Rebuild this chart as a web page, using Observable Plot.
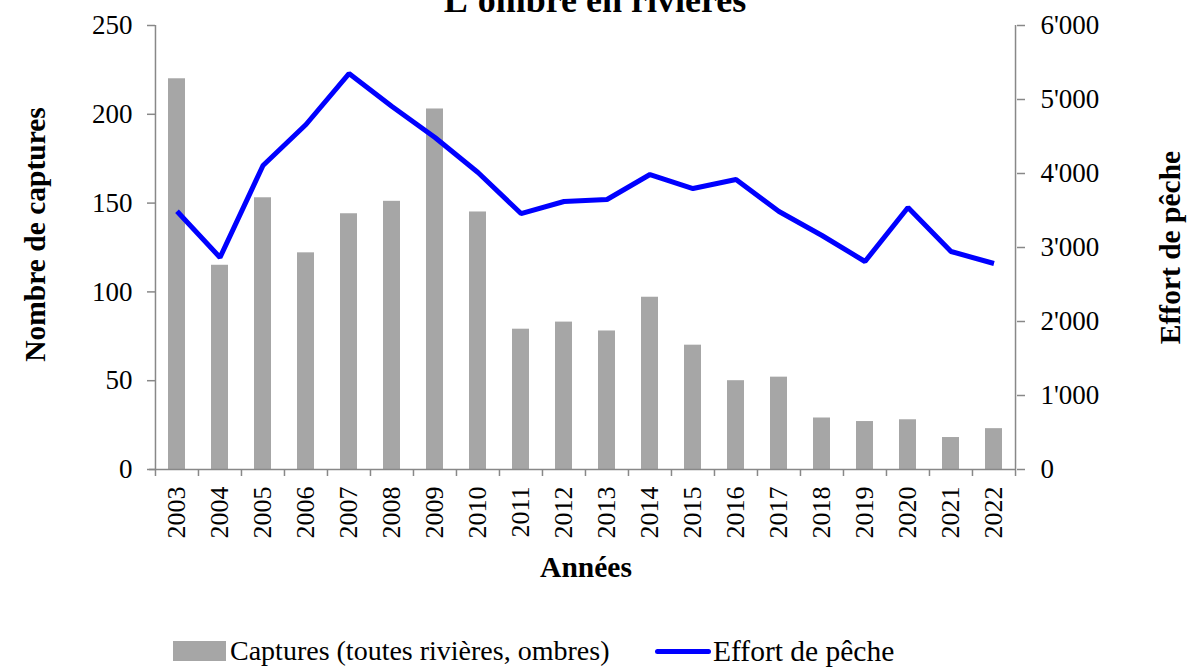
<!DOCTYPE html>
<html>
<head>
<meta charset="utf-8">
<script src="https://cdn.jsdelivr.net/npm/d3@7"></script>
<script src="https://cdn.jsdelivr.net/npm/@observablehq/plot@0.6"></script>
<style>
  html, body { margin: 0; padding: 0; background: #fff; overflow: hidden; }
  #wrap { position: relative; width: 1190px; height: 671px; font-family: "Liberation Serif", "DejaVu Serif", serif; color: #000; }
  #title { position: absolute; left: 0; width: 1190px; top: -18px; text-align: center; font-weight: bold; font-size: 36px; line-height: 36px; z-index: 2; }
  #chart { position: absolute; left: 0; top: 0; }
  #legend { position: absolute; top: 636px; left: 0; width: 1190px; font-size: 28px; line-height: 30px; }
  .item { position: absolute; display: flex; align-items: center; white-space: nowrap; }
  .sw-bar { width: 53px; height: 20px; background: #a6a6a6; margin-right: 4px; }
  .sw-line { width: 56px; height: 5px; background: #0000ff; border-radius: 3px; margin-right: 2px; }
</style>
</head>
<body>
<div id="wrap">
  <div id="title">L'ombre en rivières</div>
  <div id="chart"></div>
  <div id="legend">
    <div class="item" style="left:173px;"><div class="sw-bar"></div><span>Captures (toutes rivières, ombres)</span></div>
    <div class="item" style="left:655px;"><div class="sw-line"></div><span style="font-size:29.5px">Effort de pêche</span></div>
  </div>
</div>
<script>
// ---- Data ----
const years = [2003,2004,2005,2006,2007,2008,2009,2010,2011,2012,2013,2014,2015,2016,2017,2018,2019,2020,2021,2022];
const captures = [220,115,153,122,144,151,203,145,79,83,78,97,70,50,52,29,27,28,18,23];
const effort = [3490,2865,4108,4662,5351,4905,4486,4014,3459,3622,3649,3986,3797,3919,3486,3162,2811,3541,2946,2784];
const leftTicks = [0,50,100,150,200,250];
const rightTicks = [0,1000,2000,3000,4000,5000,6000];
const leftMax = 250;
const rightMax = 6000;

// ---- Layout ----
const W = 1190, H = 600;
const mL = 155, mR = 1190 - 1016, mT = 25, mB = H - 469;
const step = (W - mL - mR) / years.length;
const k = leftMax / rightMax;
const axisGray = "#888888";

const rows = years.map((y, i) => ({year: y, cap: captures[i], eff: effort[i], effScaled: effort[i] * k}));
const fmt = d3.formatLocale({decimal: ".", thousands: "'", grouping: [3], currency: ["", ""]}).format(",d");

const chart = Plot.plot({
  width: W,
  height: H,
  marginLeft: mL,
  marginRight: mR,
  marginTop: mT,
  marginBottom: mB,
  style: {fontFamily: "'Liberation Serif', serif", fontSize: "26px", color: "#000", background: "white", overflow: "visible"},
  x: {type: "band", domain: years, paddingInner: 0.6, paddingOuter: 0.3, label: null},
  y: {domain: [0, leftMax], label: null},
  marks: [
    Plot.barY(rows, {x: "year", y: "cap", fill: "#a6a6a6"}),
    // axis lines (left, right, bottom)
    Plot.ruleX(years.slice(0, 1), {x: d => d, y1: 0, y2: leftMax, dx: -step / 2, stroke: axisGray, strokeWidth: 1.5}),
    Plot.ruleX(years.slice(-1), {x: d => d, y1: 0, y2: leftMax, dx: step / 2, stroke: axisGray, strokeWidth: 1.5}),
    Plot.ruleY([0], {stroke: axisGray, strokeWidth: 1.5, insetLeft: -6}),
    // boundary ticks on x axis
    Plot.ruleX(years, {x: d => d, y1: 0, y2: 0, insetBottom: -7, dx: -step / 2, stroke: axisGray, strokeWidth: 1.5}),
    Plot.ruleX(years.slice(-1), {x: d => d, y1: 0, y2: 0, insetBottom: -7, dx: step / 2, stroke: axisGray, strokeWidth: 1.5}),
    Plot.axisX({tickSize: 0, tickPadding: 17, tickRotate: -90, tickFormat: d => String(d), fontSize: 26, fill: "#000", label: null}),
    Plot.axisY({anchor: "left", ticks: leftTicks, tickSize: 8, tickPadding: 15, stroke: axisGray, strokeWidth: 1.5, fill: "#000", fontSize: 27, label: null}),
    Plot.axisY({anchor: "right", ticks: rightTicks.map(v => v * k), tickFormat: d => fmt(Math.round(d / k)), tickSize: 8, tickPadding: 16, stroke: axisGray, strokeWidth: 1.5, fill: "#000", fontSize: 27, label: null}),
    Plot.line(rows, {x: "year", y: "effScaled", stroke: "#0000ff", strokeWidth: 5, strokeLinejoin: "miter", strokeLinecap: "butt"}),
    // axis titles
    Plot.text(["Nombre de captures"], {frameAnchor: "left", textAnchor: "middle", dx: -120, dy: -13, rotate: -90, fontSize: 29.5, fontWeight: "bold", fill: "#000"}),
    Plot.text(["Effort de pêche"], {frameAnchor: "right", textAnchor: "middle", dx: 154, rotate: -90, fontSize: 29.5, fontWeight: "bold", fill: "#000"}),
    Plot.text(["Années"], {frameAnchor: "bottom", dy: 107, fontSize: 29.5, fontWeight: "bold", fill: "#000"})
  ]
});
document.getElementById("chart").appendChild(chart);
</script>
</body>
</html>
